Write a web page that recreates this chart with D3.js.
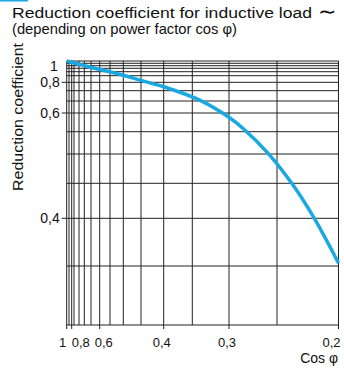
<!DOCTYPE html>
<html lang="en">
<head>
  <meta charset="UTF-8">
  <title>Reduction coefficient for inductive load</title>
  <script src="https://d3js.org/d3.v7.min.js"></script>
  <style>
    body { margin: 0; background: #fff; }
    text { font-family: "Liberation Sans", Arial, sans-serif; fill: #111; }
    .grid line { stroke: #222; stroke-width: 1; }
  </style>
</head>
<body>
<div id="chart"></div>
<script>

// cos phi grid lines (non-uniform chart scale) and their labels
var xGrid = [1, 0.9, 0.8, 0.76, 0.72, 0.68, 0.64, 0.6, 0.55, 0.5, 0.45, 0.4, 0.35, 0.3, 0.25, 0.2];
var xTicks = [1, 0.8, 0.6, 0.4, 0.3, 0.2];
var xLabels = ["1", "0,8", "0,6", "0,4", "0,3", "0,2"];

// reduction coefficient grid lines and labels
var yGrid = [1, 0.98, 0.955, 0.93, 0.9, 0.86, 0.8, 0.745, 0.68, 0.6, 0.55, 0.5, 0.45, 0.4, 0.35, 0.3];
var yTicks = [0.8, 0.6, 0.4];
var yLabels = ["1", "0,8", "0,6", "0,4"];

// curve
var cosPhi = [1, 0.6, 0.55, 0.5, 0.45, 0.4, 0.34, 0.301, 0.285, 0.259, 0.238, 0.22, 0.2];
var coeff  = [1, 0.919, 0.9, 0.865, 0.817, 0.771, 0.686, 0.59, 0.558, 0.501, 0.45, 0.401, 0.353];

var W = 344, H = 372;
var margin = {top: 61, left: 66.7, right: 5.5, bottom: 47};
var width = W - margin.left - margin.right,
    height = H - margin.top - margin.bottom;

// the printed chart is drawn on a hand-made scale, so each grid line gets its own stop
var xStops = [0, 2.3, 5, 7.3, 12.3, 17.6, 24.3, 33, 43.3, 56.6, 74.3, 97, 125.6, 162.3, 210.3, 271.8];
var yStops = [0, 2.3, 4.7, 7.3, 10.7, 14.7, 21.3, 29.7, 40, 52, 70.7, 93, 122.3, 157.3, 205, 264];

var x = d3.scaleLinear().domain(xGrid).range(xStops.map(function(d) { return d / 271.8 * width; }));
var y = d3.scaleLinear().domain(yGrid).range(yStops.map(function(d) { return d / 264 * height; }));

var svg = d3.select("#chart").append("svg")
    .attr("width", W)
    .attr("height", H);

svg.append("rect")
  .attr("x", 0).attr("y", 0).attr("width", 28).attr("height", 1.5)
  .attr("fill", "#1aa8e2");

// title
svg.append("text").attr("x", 12).attr("y", 18).style("font-size", "15.5px")
  .attr("textLength", 300).attr("lengthAdjust", "spacingAndGlyphs")
  .text("Reduction coefficient for inductive load");
svg.append("text").attr("x", 318).attr("y", 19).style("font-size", "22px")
  .text("\u223C");
svg.append("text").attr("x", 12).attr("y", 34).style("font-size", "15px")
  .attr("textLength", 225).attr("lengthAdjust", "spacingAndGlyphs")
  .text("(depending on power factor cos \u03C6)");

var g = svg.append("g")
  .attr("transform", "translate(" + margin.left + "," + margin.top + ")");

var grid = g.append("g").attr("class", "grid");

grid.selectAll(".vx")
  .data(xGrid)
  .enter().append("line")
  .attr("x1", function(d) { return x(d); })
  .attr("x2", function(d) { return x(d); })
  .attr("y1", 0)
  .attr("y2", height);

grid.selectAll(".hy")
  .data(yGrid)
  .enter().append("line")
  .attr("x1", 0)
  .attr("x2", width)
  .attr("y1", function(d) { return y(d); })
  .attr("y2", function(d) { return y(d); });

// tick marks sticking out of the frame
grid.selectAll(".tx")
  .data(xTicks)
  .enter().append("line")
  .attr("x1", function(d) { return x(d); })
  .attr("x2", function(d) { return x(d); })
  .attr("y1", height)
  .attr("y2", height + 4);

grid.selectAll(".ty")
  .data(yTicks)
  .enter().append("line")
  .attr("x1", -5)
  .attr("x2", 0)
  .attr("y1", function(d) { return y(d); })
  .attr("y2", function(d) { return y(d); });

// x labels, nudged apart near 1 like in the print
var xNudge = [-4, 9, 4, -2, -2, -7];
g.selectAll(".xl")
  .data(xTicks)
  .enter().append("text")
  .attr("x", function(d, i) { return x(d) + xNudge[i]; })
  .attr("y", height + 22)
  .attr("text-anchor", "middle")
  .style("font-size", "13px")
  .text(function(d, i) { return xLabels[i]; });

svg.append("text").attr("x", 338).attr("y", 363).attr("text-anchor", "end")
  .style("font-size", "14px").text("Cos \u03C6");

// y labels
g.selectAll(".yl")
  .data([1].concat(yTicks))
  .enter().append("text")
  .attr("x", function(d, i) { return i === 0 ? -9 : -7; })
  .attr("y", function(d, i) { return y(d) + (i === 0 ? 10 : 5); })
  .attr("text-anchor", "end")
  .style("font-size", "14px")
  .text(function(d, i) { return yLabels[i]; });

svg.append("text")
  .attr("transform", "translate(23,117) rotate(-90)")
  .attr("text-anchor", "middle")
  .style("font-size", "14.5px")
  .attr("textLength", 148).attr("lengthAdjust", "spacingAndGlyphs")
  .text("Reduction coefficient");

// the curve
var pts = cosPhi.map(function(c, i) { return [x(c), y(coeff[i])]; });
g.append("path")
  .datum(pts)
  .attr("fill", "none")
  .attr("stroke", "#1aa8e2")
  .attr("stroke-width", 3.5)
  .attr("d", d3.line().curve(d3.curveCatmullRom.alpha(0.5)));

</script>
</body>
</html>
